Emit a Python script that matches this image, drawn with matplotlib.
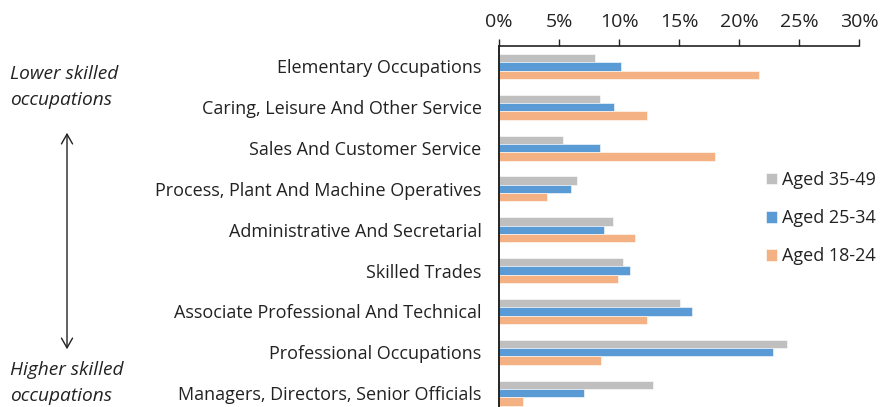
import matplotlib
matplotlib.use("Agg")
import matplotlib.pyplot as plt
import numpy as np
from matplotlib.ticker import FuncFormatter, MultipleLocator

categories = [
    "Elementary Occupations",
    "Caring, Leisure And Other Service",
    "Sales And Customer Service",
    "Process, Plant And Machine Operatives",
    "Administrative And Secretarial",
    "Skilled Trades",
    "Associate Professional And Technical",
    "Professional Occupations",
    "Managers, Directors, Senior Officials",
]
aged_35_49 = [8.0, 8.4, 5.3, 6.5, 9.5, 10.3, 15.1, 24.0, 12.8]
aged_25_34 = [10.2, 9.6, 8.4, 6.0, 8.75, 10.95, 16.1, 22.8, 7.1]
aged_18_24 = [21.7, 12.3, 18.0, 4.0, 11.3, 9.9, 12.3, 8.5, 2.0]
series_labels = ["Aged 35-49", "Aged 25-34", "Aged 18-24"]
colors = ["#BFBFBF", "#5B9BD5", "#F4B183"]

plt.rcParams['font.family'] = ['Open Sans', 'DejaVu Sans']

W, H = 881, 407
fig = plt.figure(figsize=(W / 100, H / 100), dpi=100)
ax_left, ax_right, ax_top, ax_bot = 499, 859, 46, 413.5
ax = fig.add_axes([ax_left / W, (H - ax_bot) / H, (ax_right - ax_left) / W, (ax_bot - ax_top) / H])

y = np.arange(len(categories))
bh = 0.205
for i, (vals, lab, c) in enumerate(zip([aged_35_49, aged_25_34, aged_18_24], series_labels, colors)):
    ax.barh(y + (i - 1) * bh, vals, height=bh, color=c, label=lab,
            edgecolor='white', linewidth=0.4)

ax.set_xlim(0, 30)
ax.set_ylim(len(categories) - 0.5, -0.5)
ax.xaxis.tick_top()
ax.xaxis.set_major_locator(MultipleLocator(5))
ax.xaxis.set_major_formatter(FuncFormatter(lambda v, p: f"{v:.0f}%"))
ax.tick_params(axis='x', direction='out', length=5, width=1, pad=6, labelsize=14, colors='#222222')
ax.set_yticks(y)
ax.set_yticklabels(categories)
ax.tick_params(axis='y', length=0, pad=12.5, labelsize=13, colors='#222222')
for s in ['right', 'bottom']:
    ax.spines[s].set_visible(False)
ax.spines['top'].set_color('#222222')
ax.spines['left'].set_color('#000000')
ax.spines['top'].set_linewidth(1.2)
ax.spines['left'].set_linewidth(1.2)

leg = fig.legend(loc='upper left', bbox_to_anchor=(766 / W, 1 - 171 / H), frameon=False,
                 fontsize=13, handlelength=0.6, handleheight=0.6, handletextpad=0.3,
                 labelspacing=1.12, borderaxespad=0, borderpad=0)
for t in leg.get_texts():
    t.set_color('#222222')

# Left annotation
kw = dict(style='italic', fontsize=13.8, ha='left', va='center', color='#222222')
fig.text(10 / W, 1 - 74 / H, "Lower skilled", **kw)
fig.text(10 / W, 1 - 100 / H, "occupations", **kw)
fig.text(10 / W, 1 - 370 / H, "Higher skilled", **kw)
fig.text(10 / W, 1 - 396 / H, "occupations", **kw)
fig.add_artist(matplotlib.patches.FancyArrowPatch(
    (67 / W, 1 - 130 / H), (67 / W, 1 - 352 / H), transform=fig.transFigure,
    arrowstyle='<->,head_length=7,head_width=4', color='#222222', lw=1.0))

fig.savefig("out.png", dpi=100)
